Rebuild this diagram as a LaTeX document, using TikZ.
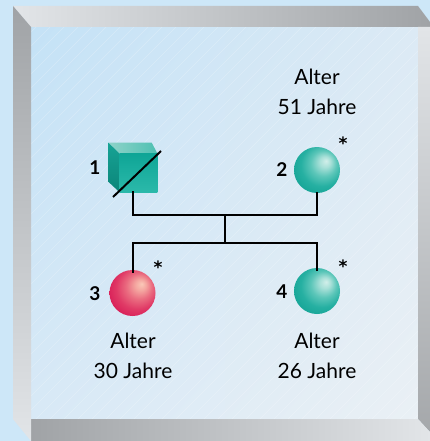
\documentclass[tikz,border=0pt]{standalone}
\usepackage{fontspec}
\setmainfont{Lato}
\newfontfamily\starfont{DejaVu Sans}
\usetikzlibrary{calc,shadings}
\definecolor{bgblue}{HTML}{CDE7F8}
\definecolor{faceA}{HTML}{C4E2F6}
\definecolor{faceB}{HTML}{D8E9F6}
\definecolor{faceC}{HTML}{DCEAF5}
\definecolor{faceD}{HTML}{EAF0F5}
\definecolor{bevL}{HTML}{E2E5E8}
\definecolor{bevD}{HTML}{A0A3A6}
\definecolor{cubeA}{HTML}{0EA596}
\definecolor{cubeB}{HTML}{2BB9AA}
\definecolor{cubeTopA}{HTML}{8FD3C9}
\definecolor{cubeTopB}{HTML}{4EC0B2}
\definecolor{cubeSideA}{HTML}{17A395}
\definecolor{cubeSideB}{HTML}{0B8579}
\definecolor{tA}{HTML}{D2EFEA}
\definecolor{tB}{HTML}{A8E0D8}
\definecolor{tC}{HTML}{5CC6B9}
\definecolor{tD}{HTML}{26B0A2}
\definecolor{tE}{HTML}{15A496}
\definecolor{tF}{HTML}{0C9186}
\definecolor{pA}{HTML}{FAC8B8}
\definecolor{pB}{HTML}{F4A6A0}
\definecolor{pC}{HTML}{EA6C80}
\definecolor{pD}{HTML}{E03A66}
\definecolor{pE}{HTML}{D81C57}
\definecolor{pF}{HTML}{C4124C}
\pgfdeclareradialshading{tealball}{\pgfpoint{10bp}{10bp}}{%
  color(0bp)=(tA); color(6bp)=(tB); color(14bp)=(tC); color(23bp)=(tD);
  color(32bp)=(tE); color(40bp)=(tF); color(50bp)=(tF)}
\pgfdeclareradialshading{pinkball}{\pgfpoint{10bp}{10bp}}{%
  color(0bp)=(pA); color(6bp)=(pB); color(14bp)=(pC); color(23bp)=(pD);
  color(32bp)=(pE); color(40bp)=(pF); color(50bp)=(pF)}
\tikzset{
  conn/.style={line width=2pt, black, line cap=rect},
  tealsym/.style={circle, inner sep=0pt, minimum size=46pt, shading=tealball},
  pinksym/.style={circle, inner sep=0pt, minimum size=46pt, shading=pinkball},
  numlabel/.style={font=\fontsize{19}{20}\selectfont\bfseries, inner sep=0pt},
  starlabel/.style={font=\starfont\fontsize{17}{18}\selectfont\bfseries, inner sep=0pt},
  agelabel/.style={font=\fontsize{21}{30}\selectfont, align=center, inner sep=0pt},
}
\begin{document}
\begin{tikzpicture}[x=1pt,y=-1pt]
\useasboundingbox (0,0) rectangle (430,441);
\fill[bgblue] (0,0) rectangle (430,441);
% face
\shade[upper left=faceA, upper right=faceC, lower left=faceB, lower right=faceD] (31,27) rectangle (418,419);
\begin{scope}
\clip (31,27) rectangle (418,419);
\foreach \k in {-420,-406,...,420}{
  \draw[white, opacity=0.25, line width=0.5pt] (\k,441) -- ++(441,-441);
}
\end{scope}
% bevels
\shade[left color=bevL, right color=bevD] (13,6) -- (418,6) -- (430,22) -- (430,27) -- (31,27) -- cycle;
\shade[top color=bevL, bottom color=bevD!95!white] (418,27) -- (430,27) -- (430,432) -- (418,419) -- cycle;
\shade[left color=bevD, right color=bevL] (31,419) -- (418,419) -- (430,432) -- (430,441) -- (31,441) -- cycle;
\shade[top color=bevD, bottom color=bevL] (13,6) -- (31,27) -- (31,441) -- (13,419) -- cycle;
% symbols
\node[inner sep=0pt, minimum width=49pt, minimum height=49pt] (n1) at (132.5,167.5) {};
\shade[left color=cubeTopA, right color=cubeTopB] (108.3,142.7) -- (151.7,142.7) -- (157.3,153.3) -- (119.3,153.3) -- cycle;
\shade[top color=cubeSideA, bottom color=cubeSideB] (108.3,142.7) -- (119.3,153.3) -- (119.3,192) -- (108.3,181.7) -- cycle;
\shade[top color=cubeA, bottom color=cubeB] (119.3,153.3) rectangle (157.3,192);
\node[tealsym] (n2) at (317,170) {};
\node[pinksym] (n3) at (132.5,293) {};
\node[tealsym] (n4) at (317,291) {};
% connectors
\coordinate (mar) at (224.5,215);
\coordinate (sib) at (224.5,243);
\draw[conn] (n1.south) |- (mar) -| (n2.south);
\draw[conn] (mar) -- (sib);
\draw[conn] (n3.north) ++(0,2) |- (sib) -| ($(n4.north)+(0,2)$);
% strike line over cube
\coordinate (s1) at (113,197);
\coordinate (s2) at (161,151);
\draw[line width=2pt] (s1) -- (s2);
% labels
\node[numlabel] (l1) at (95,168) {1};
\node[numlabel] (l2) at (282,170) {2};
\node[numlabel] (l3) at (95,294) {3};
\node[numlabel] (l4) at (282,292) {4};
\node[starlabel] (st2) at (343,143) {*};
\node[starlabel] (st3) at (158,267) {*};
\node[starlabel] (st4) at (343,266) {*};
\node[agelabel] (a2) at (317,92) {Alter\\51 Jahre};
\node[agelabel] (a3) at (133,356) {Alter\\30 Jahre};
\node[agelabel] (a4) at (317,356) {Alter\\26 Jahre};
\end{tikzpicture}
\end{document}
